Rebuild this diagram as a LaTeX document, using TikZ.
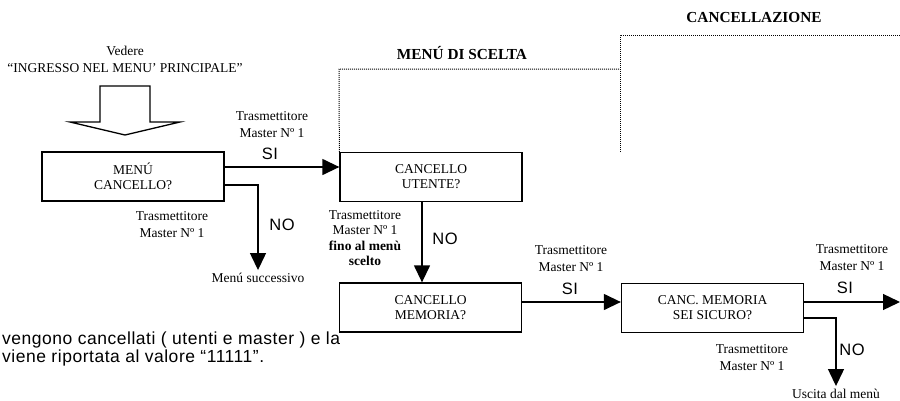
\documentclass[tikz,border=0pt]{standalone}
\usepackage{fontspec}
\setmainfont{Liberation Serif}
\newfontfamily\arialwide[LetterSpace=3]{Liberation Sans}
\usetikzlibrary{arrows.meta}

\tikzset{
  box/.style={draw, line width=1.3pt, minimum width=182pt, minimum height=49pt,
    align=center, inner sep=0pt, font=\fontsize{13.5}{15}\selectfont},
  lbl/.style={align=center, inner sep=0pt, font=\fontsize{13.5}{17}\selectfont},
  yn/.style={inner sep=0pt, font=\arialwide\fontsize{16.5}{18}\selectfont},
  zonetitle/.style={inner sep=0pt, font=\bfseries\fontsize{15.3}{18}\selectfont},
  flow/.style={line width=1.3pt, -{Triangle[length=17pt,width=16pt]}},
  zone/.style={line width=1pt, dash pattern=on 1pt off 1pt},
}

\begin{document}
\begin{tikzpicture}[x=1pt,y=-1pt]
    \useasboundingbox (0,0) rectangle (900,400);
    % ingresso
    \node[lbl] (V) at (125,59) {Vedere\\“INGRESSO NEL MENU’ PRINCIPALE”};
    \draw[line width=1.3pt] (100,86) -- (150,86) -- (150,122) -- (180,122)
        -- (125,135) -- (70,122) -- (100,122) -- cycle;
    % blocchi
    \node[box] (MC) at (133,176.5) {MENÚ\\CANCELLO?};
    \node[box] (CU) at (431,177) {CANCELLO\\UTENTE?};
    \node[box] (CM) at (430.5,307.5) {CANCELLO\\MEMORIA?};
    \node[box] (CS) at (712.5,308) {CANC. MEMORIA\\SEI SICURO?};
    \node[lbl] (MS) at (258,278) {Menú successivo};
    \node[lbl] (UM) at (836,394) {Uscita dal menù};
    \coordinate (OUT) at (900,302);
    % frecce
    \draw[flow] (MC.east |- 0,167) -- (CU.west |- 0,167);
    \draw[flow] (MC.east |- 0,185) -| ([yshift=3pt]MS.north);
    \draw[flow] (CU.south -| 422,0) -- (CM.north -| 422,0);
    \draw[flow] (CM.east |- 0,302) -- (CS.west |- 0,302);
    \draw[flow] (CS.east |- 0,302) -- (OUT);
    \draw[flow] (CS.east |- 0,318) -| ([yshift=3pt]UM.north);
    % etichette
    \node[lbl] (T1) at (272,124.5) {Trasmettitore\\Master Nº 1};
    \node[yn] (S1) at (270,154) {SI};
    \node[lbl] (T2) at (172,225) {Trasmettitore\\Master Nº 1};
    \node[yn] (N1) at (282,225) {NO};
    \node[lbl, font=\fontsize{13.5}{15.5}\selectfont] (T3) at (365,238)
        {Trasmettitore\\Master Nº 1\\\textbf{fino al menù}\\\textbf{scelto}};
    \node[yn] (N2) at (445,239) {NO};
    \node[lbl] (T4) at (571,259) {Trasmettitore\\Master Nº 1};
    \node[yn] (S2) at (570,289) {SI};
    \node[lbl] (T5) at (852,258) {Trasmettitore\\Master Nº 1};
    \node[yn] (S3) at (845,288) {SI};
    \node[lbl] (T6) at (752,357.5) {Trasmettitore\\Master Nº 1};
    \node[yn] (N3) at (852,350) {NO};
    % zone
    \node[zonetitle] (ZS) at (462,53) {MENÚ DI SCELTA};
    \node[zonetitle] (ZC) at (754,18) {CANCELLAZIONE};
    \draw[zone] (CU.north west) -- (339,69) -- (620,69);
    \draw[zone] (620,152) -- (620,35) -- (900,35);
    % nota
    \node[anchor=west, align=left, inner sep=0pt,
        font=\arialwide\fontsize{17.5}{18}\selectfont] (NT) at (2,349)
        {vengono cancellati ( utenti e master ) e la\\viene riportata al valore “11111”.};
\end{tikzpicture}
\end{document}
